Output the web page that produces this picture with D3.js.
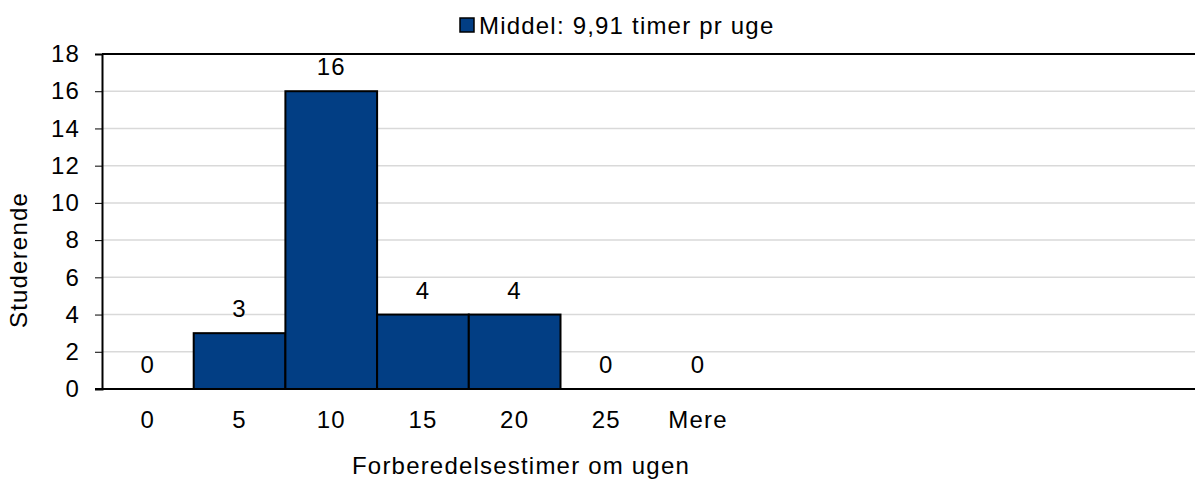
<!doctype html>
<html lang="en">
<head>
<meta charset="utf-8">
<title>Forberedelsestimer om ugen</title>
<style>
body { margin: 0; background: #fff; }
svg { display: block; font-family: "Liberation Sans", Arial, sans-serif; letter-spacing: 1.2px; }
</style>
</head>
<body>
<div id="chart"></div>
<script src="https://cdnjs.cloudflare.com/ajax/libs/d3/7.8.5/d3.min.js"></script>
<script>
var categories = ["0", "5", "10", "15", "20", "25", "Mere"];
var counts = [0, 3, 16, 4, 4, 0, 0];
var yTicks = [0, 2, 4, 6, 8, 10, 12, 14, 16, 18];
var legendLabel = "Middel: 9,91 timer pr uge";
var xTitle = "Forberedelsestimer om ugen";
var yTitle = "Studerende";

var width = 1195, height = 483;
var plotLeft = 102, plotRight = 1195, plotTop = 54, plotBottom = 389;
var bandW = 91.7;
var fs = 24;

var svg = d3.select("#chart").append("svg")
    .attr("width", width)
    .attr("height", height);

var x = d3.scaleBand()
    .domain(categories)
    .range([plotLeft, plotLeft + bandW * categories.length])
    .padding(0);

var y = d3.scaleLinear()
    .domain([0, 18])
    .range([plotBottom, plotTop]);

// gridlines
svg.append("g")
    .selectAll("line")
    .data(yTicks.filter(function(d) { return d > 0 && d < 18; }))
    .join("line")
    .attr("x1", plotLeft).attr("x2", plotRight)
    .attr("y1", function(d) { return y(d); })
    .attr("y2", function(d) { return y(d); })
    .attr("stroke", "#d9d9d9")
    .attr("stroke-width", 1.5);

// top border
svg.append("line")
    .attr("x1", plotLeft).attr("x2", plotRight)
    .attr("y1", plotTop).attr("y2", plotTop)
    .attr("stroke", "#000").attr("stroke-width", 2);

var rows = counts.map(function(v, i) { return {c: categories[i], v: v}; });

// bars
svg.append("g")
    .selectAll("rect")
    .data(rows.filter(function(d) { return d.v > 0; }))
    .join("rect")
    .attr("x", function(d) { return x(d.c); })
    .attr("width", x.bandwidth())
    .attr("y", function(d) { return y(d.v); })
    .attr("height", function(d) { return y(0) - y(d.v); })
    .attr("fill", "#023e84")
    .attr("stroke", "#000")
    .attr("stroke-width", 2);

// value labels
svg.append("g")
    .selectAll("text")
    .data(rows)
    .join("text")
    .attr("x", function(d) { return x(d.c) + x.bandwidth() / 2; })
    .attr("y", function(d) { return y(d.v) - 16; })
    .attr("text-anchor", "middle")
    .attr("font-size", fs)
    .attr("fill", "#000")
    .text(function(d) { return d.v; });

// y axis
var yAxis = svg.append("g")
    .attr("transform", "translate(" + plotLeft + ",0)")
    .call(d3.axisLeft(y).tickValues(yTicks).tickSize(7).tickPadding(15));
yAxis.select(".domain").attr("stroke", "#000").attr("stroke-width", 2);
yAxis.selectAll(".tick line").attr("stroke", "#000").attr("stroke-width", 1);
yAxis.selectAll("text").attr("font-size", fs).attr("fill", "#000").attr("font-family", null);

// x axis
var xAxis = svg.append("g")
    .attr("transform", "translate(0," + plotBottom + ")")
    .call(d3.axisBottom(x).tickSize(0).tickPadding(22));
xAxis.select(".domain").remove();
xAxis.selectAll("text").attr("font-size", fs).attr("fill", "#000").attr("font-family", null);
svg.append("line")
    .attr("x1", plotLeft - 7).attr("x2", plotRight)
    .attr("y1", plotBottom).attr("y2", plotBottom)
    .attr("stroke", "#000").attr("stroke-width", 2);

// axis titles
svg.append("text")
    .attr("x", 521).attr("y", 474)
    .attr("text-anchor", "middle")
    .attr("font-size", fs)
    .text(xTitle);

svg.append("text")
    .attr("transform", "translate(27,260) rotate(-90)")
    .attr("text-anchor", "middle")
    .attr("font-size", fs)
    .text(yTitle);

// legend
var legend = svg.append("g");
legend.append("rect")
    .attr("x", 460).attr("y", 18)
    .attr("width", 14).attr("height", 14)
    .attr("fill", "#023e84")
    .attr("stroke", "#000")
    .attr("stroke-width", 1.5);
legend.append("text")
    .attr("x", 479).attr("y", 34)
    .attr("font-size", fs)
    .text(legendLabel);
</script>
</body>
</html>
